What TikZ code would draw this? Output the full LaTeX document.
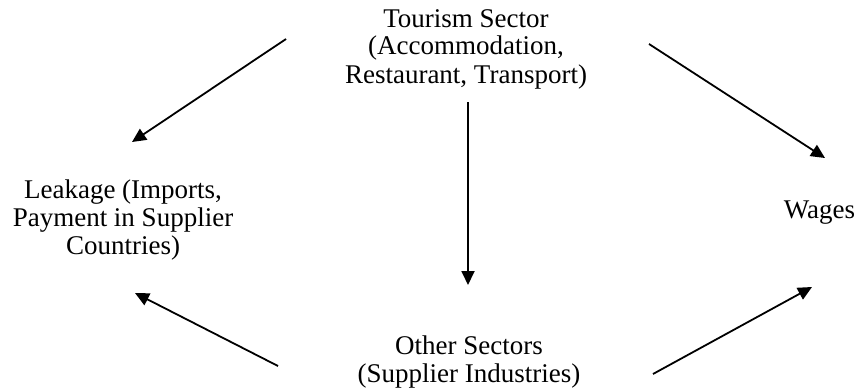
\documentclass[tikz,border=0pt]{standalone}
\usepackage{fontspec}
\setmainfont{Liberation Serif}
\usetikzlibrary{arrows.meta, positioning}

\begin{document}
\begin{tikzpicture}[x=0.5pt, y=-0.5pt, thick]

        \tikzset{
            label/.style={align=center, inner sep=0, anchor=base, font=\fontsize{13.5}{14}\selectfont},
            flow/.style={-{Triangle[length=7pt, width=6.5pt]}, line width=0.9pt, color=black}
        }

        \useasboundingbox (0, 0) rectangle (856, 391);

        % Texts (placed at the baseline of their last line)
        \node[label] (tourism) at (466, 83) {Tourism Sector\\(Accommodation,\\Restaurant, Transport)};
        \node[label] (leakage) at (123, 254) {Leakage (Imports,\\Payment in Supplier\\Countries)};
        \node[label, anchor=base west] (wages) at (783, 218) {Wages};
        \node[label] (other) at (469, 382) {Other Sectors\\(Supplier Industries)};

        % Ends of the arrows
        \coordinate (tl) at (286, 39);
        \coordinate (lt) at (132, 142);
        \coordinate (tr) at (649, 44);
        \coordinate (rt) at (825, 158);
        \coordinate (td) at (468, 102);
        \coordinate (ot) at (468, 285);
        \coordinate (ol) at (278, 366);
        \coordinate (lo) at (135, 293);
        \coordinate (or) at (653, 374);
        \coordinate (ro) at (812, 287);

        % Arrows
        \draw[flow] (tl) -- (lt);
        \draw[flow] (tr) -- (rt);
        \draw[flow] (td) -- (ot);
        \draw[flow] (ol) -- (lo);
        \draw[flow] (or) -- (ro);
\end{tikzpicture}
\end{document}
